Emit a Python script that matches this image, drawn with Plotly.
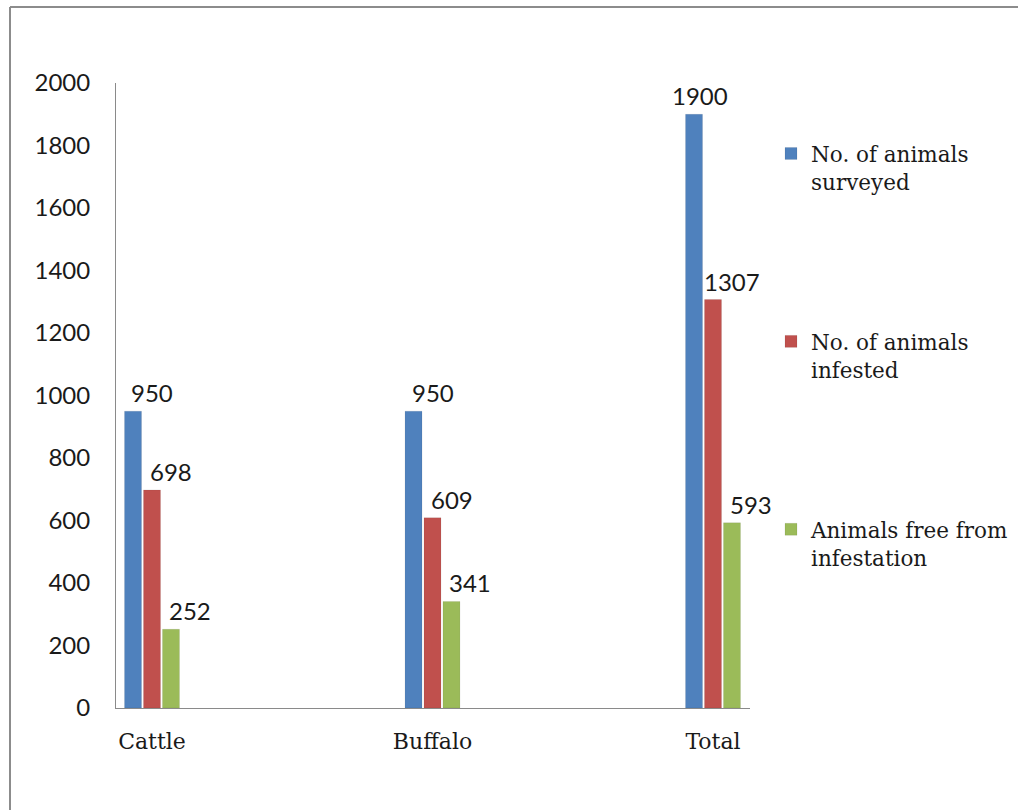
import plotly.graph_objects as go

categories = ["Cattle", "Buffalo", "Total"]
series_names = ["No. of animals surveyed", "No. of animals infested", "Animals free from infestation"]
legend_labels = ["No. of animals<br>surveyed", "No. of animals<br>infested", "Animals free from<br>infestation"]
surveyed = [950, 950, 1900]
infested = [698, 609, 1307]
free = [252, 341, 593]
y_ticks = [0, 200, 400, 600, 800, 1000, 1200, 1400, 1600, 1800, 2000]

series_values = [surveyed, infested, free]
colors = ["#4F81BD", "#C0504D", "#9BBB59"]

BARGAP = 0.797
BARGROUPGAP = 0.105
n_series = len(series_values)
slot = (1 - BARGAP) / n_series

num_font = "Lato, 'Open Sans', sans-serif"
serif_font = "'DejaVu Serif', serif"
text_color = "#1a1a1a"
axis_color = "#8a8a8a"

x_idx = list(range(len(categories)))

fig = go.Figure()
for k, (name, lab, vals, col) in enumerate(zip(series_names, legend_labels, series_values, colors)):
    fig.add_trace(go.Bar(
        x=x_idx, y=vals, name=lab,
        marker=dict(color=col, line=dict(color="rgba(0,0,0,0.07)", width=1)),
        legendgroup=str(k),
    ))

# data labels, placed from the data (bar centre within its group)
annotations = []
for k, vals in enumerate(series_values):
    for i, v in enumerate(vals):
        xc = i + (k - (n_series - 1) / 2) * slot
        shift = 19
        if k == 0 and i == len(categories) - 1:
            shift = 6
        annotations.append(dict(
            x=xc, y=v, xref="x", yref="y", text=str(v), showarrow=False,
            xanchor="center", yanchor="bottom", xshift=shift, yshift=2,
            font=dict(family=num_font, size=24, color=text_color),
        ))

# left/top border of the chart frame
px_w, px_h = 634, 625
bx = (10 - 116) / px_w
by = (708 - 7) / px_h
shapes = [
    dict(type="line", xref="paper", yref="paper", x0=bx, x1=bx, y0=-0.3, y1=by,
         line=dict(color="#8c8c8c", width=2)),
    dict(type="line", xref="paper", yref="paper", x0=bx, x1=1.6, y0=by, y1=by,
         line=dict(color="#8c8c8c", width=2)),
]

fig.update_layout(
    width=1018, height=810,
    margin=dict(l=116, r=268, t=83, b=102, autoexpand=False),
    paper_bgcolor="white", plot_bgcolor="white",
    barmode="group", bargap=BARGAP, bargroupgap=BARGROUPGAP,
    showlegend=True,
    legend=dict(
        x=(771 - 116) / px_w, y=(708 - 133) / px_h, xanchor="left", yanchor="top",
        xref="paper", yref="paper",
        font=dict(family=serif_font, size=21.5, color=text_color),
        valign="top", tracegroupgap=129, itemwidth=30,
        bgcolor="rgba(0,0,0,0)",
    ),
    annotations=annotations,
    shapes=shapes,
    xaxis=dict(
        tickmode="array", tickvals=x_idx, ticktext=categories,
        range=[-(152 - 116) / 280.5, (750 - 152) / 280.5],
        showline=True, linecolor=axis_color, linewidth=1,
        showgrid=False, zeroline=False, ticks="",
        tickfont=dict(family=serif_font, size=22, color=text_color),
        ticklabelstandoff=14,
    ),
    yaxis=dict(
        range=[0, 2000], tickmode="array", tickvals=y_ticks,
        showline=True, linecolor=axis_color, linewidth=1,
        showgrid=False, zeroline=False, ticks="",
        tickfont=dict(family=num_font, size=24, color=text_color),
        ticklabelstandoff=20,
    ),
)

fig.write_html("out.html")
